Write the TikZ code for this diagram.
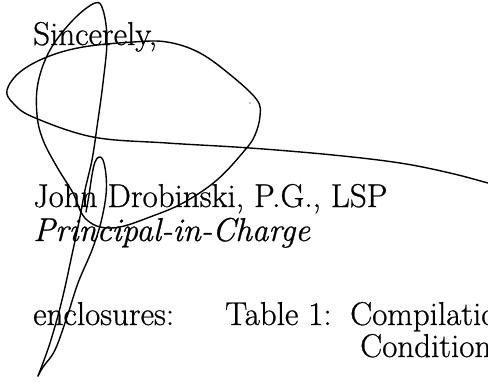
\documentclass[tikz,border=0pt]{standalone}
\usepackage{fontspec}
\setmainfont{Latin Modern Roman}[FakeBold=0.7, ItalicFeatures={FakeBold=0.7}]
\begin{document}
\begin{tikzpicture}[x=1pt, y=-1pt,
  letter/.style={anchor=base west, inner sep=0pt, font=\fontsize{33}{36}\selectfont},
  sig/.style={line width=1.4pt, line cap=round, line join=round}]

  \useasboundingbox (0,0) rectangle (488,381);
  \clip (0,0) rectangle (488,381);

  \node[letter] (closing) at (33,45) {Sincerely,};
  \node[letter] (signer) at (33,207) {John Drobinski, P.G., LSP};
  \node[letter, font=\fontsize{33}{36}\selectfont\itshape] (role) at (33,241) {Principal-in-Charge};
  \node[letter] (encl) at (33,325) {enclosures:};
  \node[letter] (table) at (225,325) {Table 1:};
  \node[letter] (comp) at (350,325) {Compilation};
  \node[letter] (cond) at (360,357) {Conditions};

  % signature
  \draw[sig] plot[smooth, tension=0.6] coordinates {
    (500,186) (488,183) (450,173) (400,163) (333,155) (250,148) (167,143)
    (93,137) (33,117) (13,103) (7,90) (20,72) (47,57) (83,47) (133,42)
    (167,42) (200,53) (233,77) (257,100) (260,116) (255,135) (245,150)
    (217,180) (183,203) (150,217) (120,227) (100,227) (87,220) (80,210)
    (73,193) (57,167) (43,140) (37,115) (38,83) (50,50) (73,20) (95,3)
    (103,10) (107,40) (103,83) (97,127) (92,160) (85,190) (80,217)
    (73,250) (62,300) (50,343) (38,376)};
  \draw[sig] plot[smooth, tension=0.6] coordinates {
    (38,376) (43,367) (55,350) (67,317) (78,283) (92,250) (101,222)
    (106,195) (106,175) (103,160) (99,157) (95,162) (92,175) (89,195) (86,212)};
  \fill (250,103) circle [radius=0.6pt];

\end{tikzpicture}
\end{document}
